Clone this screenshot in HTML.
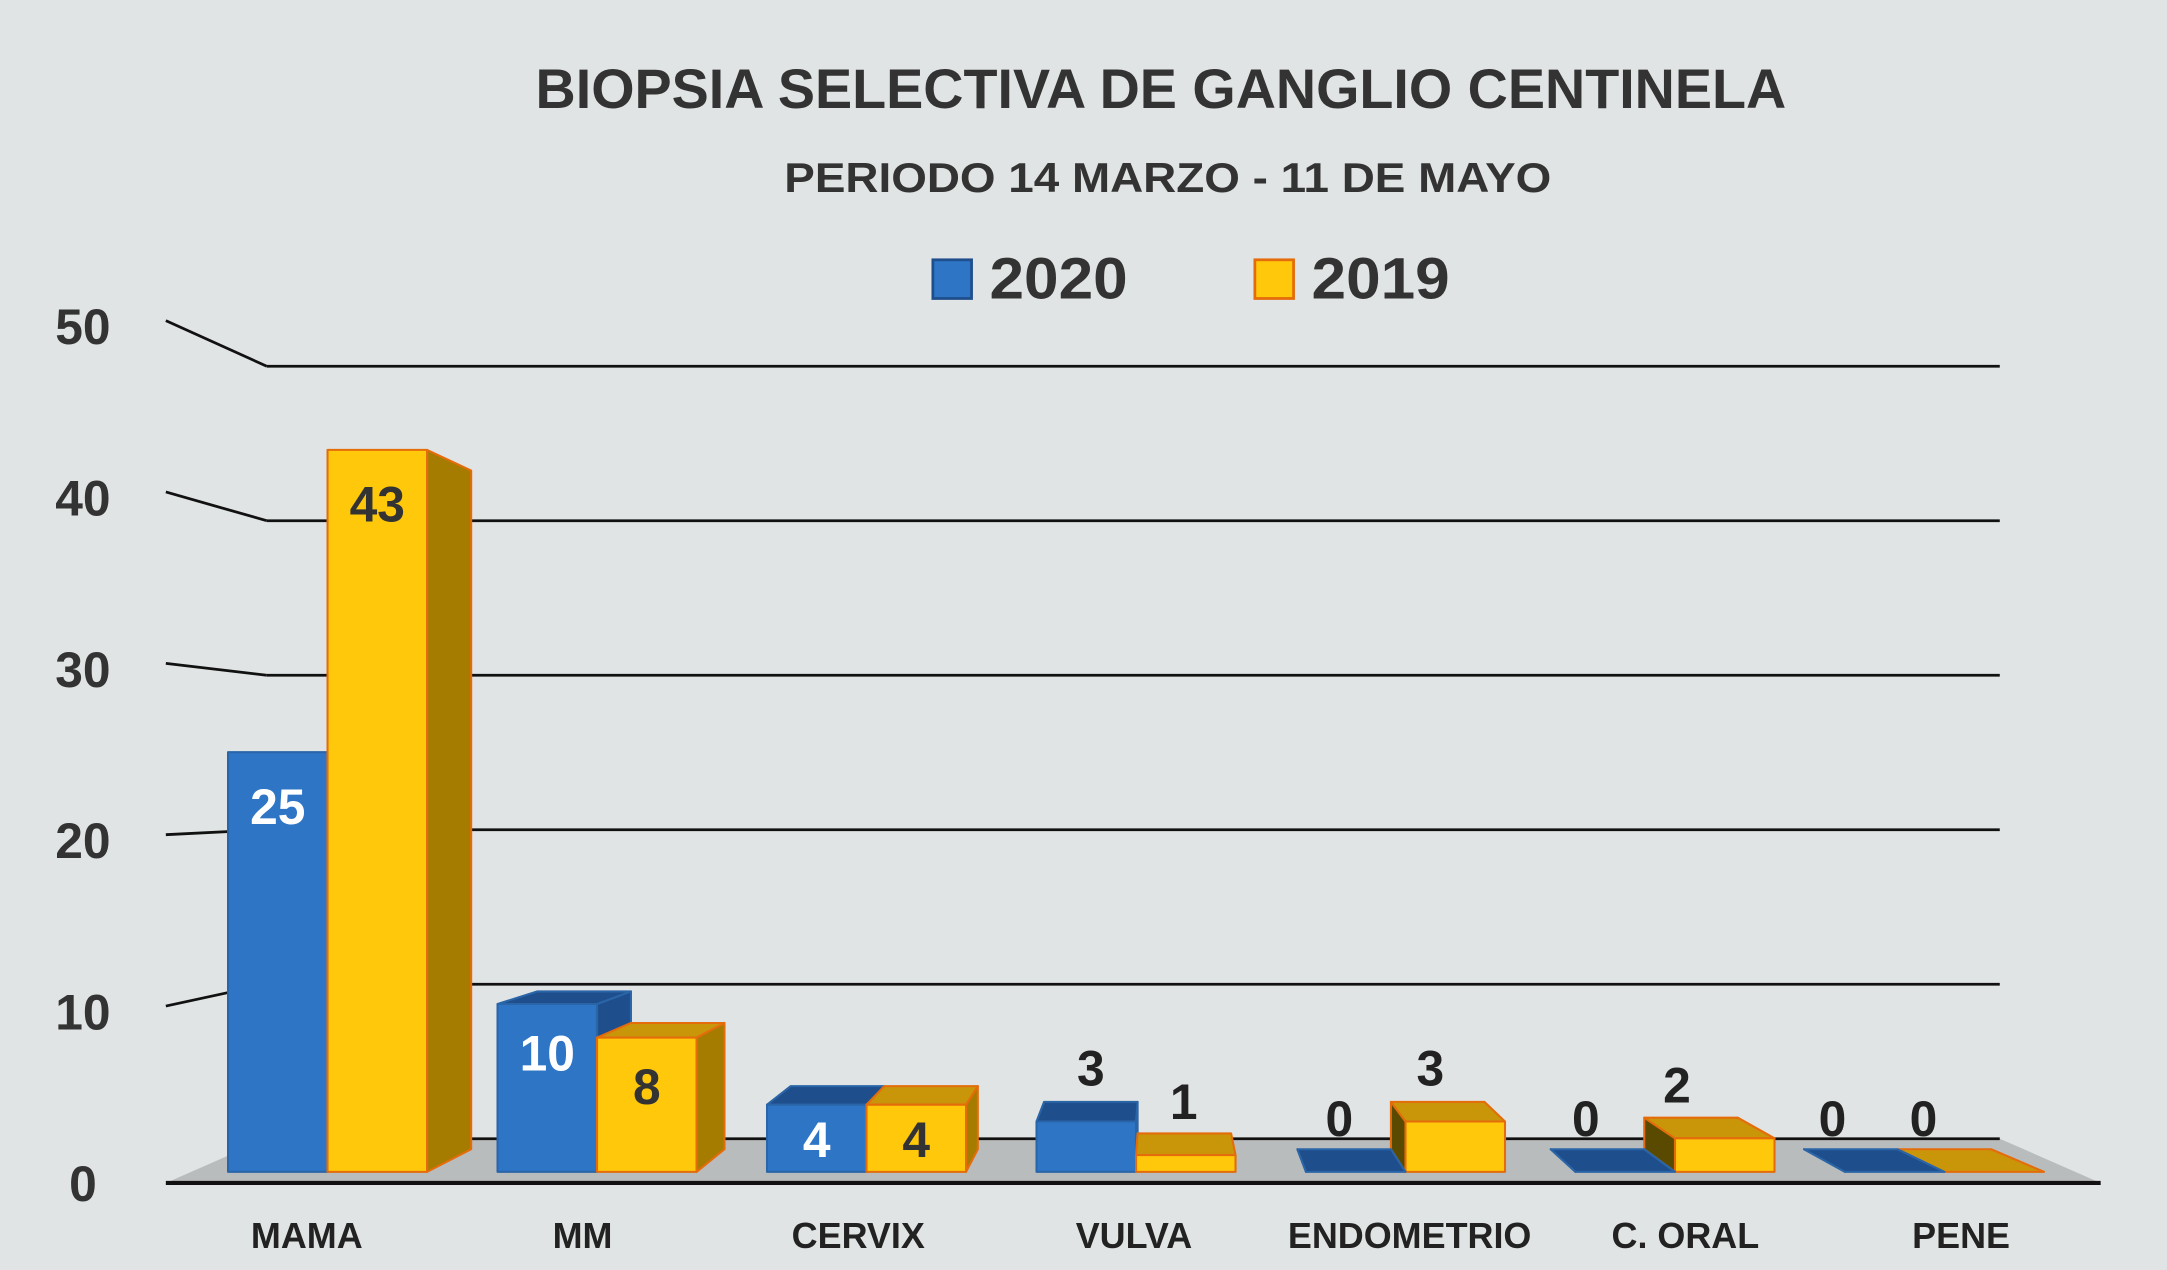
<!DOCTYPE html>
<html><head><meta charset="utf-8">
<style>
html,body{margin:0;padding:0;background:#e1e4e4;}
svg{display:block;font-family:"Liberation Sans",sans-serif;font-weight:bold;}
</style></head>
<body>
<svg id="chart" width="2167" height="1270" viewBox="0 0 1568 919" preserveAspectRatio="none" xmlns="http://www.w3.org/2000/svg">
<rect x="0" y="0" width="1568" height="919" fill="#e1e4e4"/>
<text x="840" y="78" text-anchor="middle" font-size="40" fill="#333" textLength="905" lengthAdjust="spacingAndGlyphs">BIOPSIA SELECTIVA DE GANGLIO CENTINELA</text>
<text x="845" y="139" text-anchor="middle" font-size="30" fill="#333" textLength="555" lengthAdjust="spacingAndGlyphs">PERIODO 14 MARZO - 11 DE MAYO</text>
<g>
<g>
<rect x="675" y="188" width="28" height="28" fill="#2e75c6" stroke="#1f4e8c" stroke-width="2"/>
<text x="716" y="216" font-size="42" fill="#333" textLength="100" lengthAdjust="spacingAndGlyphs">2020</text>
</g>
<g>
<rect x="908" y="188" width="28" height="28" fill="#ffc80a" stroke="#e46c0a" stroke-width="2"/>
<text x="949" y="216" font-size="42" fill="#333" textLength="100" lengthAdjust="spacingAndGlyphs">2019</text>
</g>
</g>
<g id="grid"></g>
<g id="bars"></g>
<g id="labels"></g>
<g id="cats"></g>
</svg>
<script>
const categories = ["MAMA","MM","CERVIX","VULVA","ENDOMETRIO","C. ORAL","PENE"];
const values2020 = [25,10,4,3,0,0,0];
const values2019 = [43,8,4,1,3,2,0];
const yTicks = [0,10,20,30,40,50];

const NS="http://www.w3.org/2000/svg";
const VX=841,VY=575,T=0.06;
const FLOOR=848, UNIT=12.15;
const yFront=v=>FLOOR-v*UNIT;
const back=(x,y)=>[x+(VX-x)*T,y+(VY-y)*T];
const groupX=i=>165+i*195;
const BW=72;
function mk(tag,attrs,parent){const e=document.createElementNS(NS,tag);for(const k in attrs)e.setAttribute(k,attrs[k]);parent.appendChild(e);return e;}
function poly(pts,fill,stroke,parent){return mk('polygon',{points:pts.map(p=>p.join(',')).join(' '),fill:fill,stroke:stroke,'stroke-width':1.5,'stroke-linejoin':'round'},parent);}

const grid=document.getElementById('grid');
const floorEl=poly([[120,856],[1520,856],[1447,824],[193,824]],'#b9bcbc','none',grid);


const base=mk('line',{x1:120,y1:856,x2:1520,y2:856,stroke:'#111','stroke-width':3},grid);


const gy=v=>824-v*11.18;
const fy=v=>856-v*12.4;
yTicks.forEach(v=>{
  const g=mk('g',{},grid);
  
  
  if(v>0){
    mk('line',{x1:193,y1:gy(v),x2:1447,y2:gy(v),stroke:'#111','stroke-width':2},g);
    mk('line',{x1:120,y1:fy(v)-4,x2:193,y2:gy(v),stroke:'#111','stroke-width':2},g);
  } else {
    mk('line',{x1:193,y1:824,x2:1447,y2:824,stroke:'#111','stroke-width':2},g);
  }
  const t=mk('text',{x:60,y:fy(v)+13,'text-anchor':'middle','font-size':36,fill:'#333'},g);
  t.textContent=v;
});

const barsG=document.getElementById('bars');
const list=[];
categories.forEach((c,i)=>{
  list.push({i,s:'2020',v:values2020[i],x:groupX(i),front:'#2e75c6',top:'#1f4e8c',side:'#1f4e8c',stroke:'#2a65a8',lc:'#fff'});
  list.push({i,s:'2019',v:values2019[i],x:groupX(i)+BW,front:'#ffc80a',top:'#c9960a',side:'#a67c00',stroke:'#e46c0a',lc:'#333'});
});
list.slice().sort((a,b)=>Math.abs((b.x+BW/2)-VX)-Math.abs((a.x+BW/2)-VX)).forEach(b=>{
  const g=mk('g',{},barsG);
  
  
  const x0=b.x,x1=b.x+BW,yt=yFront(b.v),yb=FLOOR;
  const [bx0,byt0]=back(x0,yt),[bx1,byt1]=back(x1,yt);
  const [bbx0,byb0]=back(x0,yb),[bbx1,byb1]=back(x1,yb);
  if(x1<VX) poly([[x1,yt],[bx1,byt1],[bbx1,byb1],[x1,yb]],b.side,b.stroke,g);
  if(x0>VX) poly([[x0,yt],[bx0,byt0],[bbx0,byb0],[x0,yb]],b.v>0?'#5a4a00':b.side,b.stroke,g);
  if(yt>VY) poly([[x0,yt],[x1,yt],[bx1,byt1],[bx0,byt0]],b.top,b.stroke,g);
  if(b.v>0) poly([[x0,yt],[x1,yt],[x1,yb],[x0,yb]],b.front,b.stroke,g);
  b.yt=yt;
});

const labG=document.getElementById('labels');
list.forEach(b=>{
  const inside=b.v>=4;
  const cy=inside?b.yt+(b.v>=20?40:(b.v>=8?36:26)):b.yt-38;
  let cx=b.x+BW/2;
  if(!inside) cx=back(cx,b.yt)[0]+(cx>VX?-(cx-VX)*0.025:0);
  const t=mk('text',{x:cx,y:cy+12,'text-anchor':'middle','font-size':36,fill:inside?b.lc:'#222'},labG);
  
  
  t.textContent=b.v;
});

const catG=document.getElementById('cats');
categories.forEach((c,i)=>{
  const t=mk('text',{x:222+i*199.5,y:903,'text-anchor':'middle','font-size':26,fill:'#222'},catG);
  
  
  t.textContent=c;
});
</script>
</body></html>
